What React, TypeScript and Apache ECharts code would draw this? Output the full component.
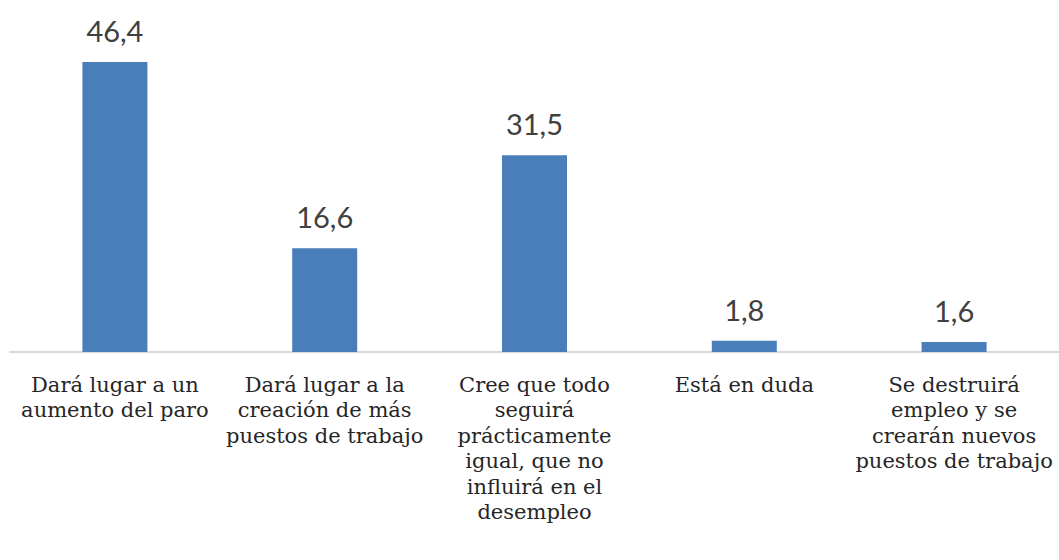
import React, { useEffect, useRef } from "react";
import * as echarts from "echarts";

const categories = [
  "Dará lugar a un\naumento del paro",
  "Dará lugar a la\ncreación de más\npuestos de trabajo",
  "Cree que todo\nseguirá\nprácticamente\nigual, que no\ninfluirá en el\ndesempleo",
  "Está en duda",
  "Se destruirá\nempleo y se\ncrearán nuevos\npuestos de trabajo",
];
const values = [46.4, 16.6, 31.5, 1.8, 1.6];

export default function App() {
  const ref = useRef<HTMLDivElement>(null);
  useEffect(() => {
    if (!ref.current) return;
    const chart = echarts.init(ref.current, undefined, { renderer: "svg" });
    chart.setOption({
      animation: false,
      backgroundColor: "#ffffff",
      grid: { left: 10, right: 0, top: 39.5, height: 312.5 },
      xAxis: {
        type: "category",
        data: categories,
        axisLine: { lineStyle: { color: "#d9d9d9", width: 2 } },
        axisTick: { show: false },
        axisLabel: {
          interval: 0,
          margin: 20,
          fontFamily: "DejaVu Serif",
          fontSize: 21,
          lineHeight: 25.5,
          color: "#262626",
        },
      },
      yAxis: {
        type: "value",
        min: 0,
        max: 50,
        show: false,
        splitLine: { show: false },
      },
      series: [
        {
          type: "bar",
          data: values,
          barWidth: 65,
          itemStyle: { color: "#4a7ebb" },
          label: {
            show: true,
            position: "top",
            distance: 17,
            fontFamily: "Lato",
            fontSize: 29,
            color: "#404040",
            formatter: (p: any) => String(p.value).replace(".", ","),
          },
        },
      ],
    });
    return () => chart.dispose();
  }, []);
  return (
    <div
      ref={ref}
      style={{ position: "absolute", left: 0, top: 0, width: 1059, height: 560 }}
    />
  );
}
